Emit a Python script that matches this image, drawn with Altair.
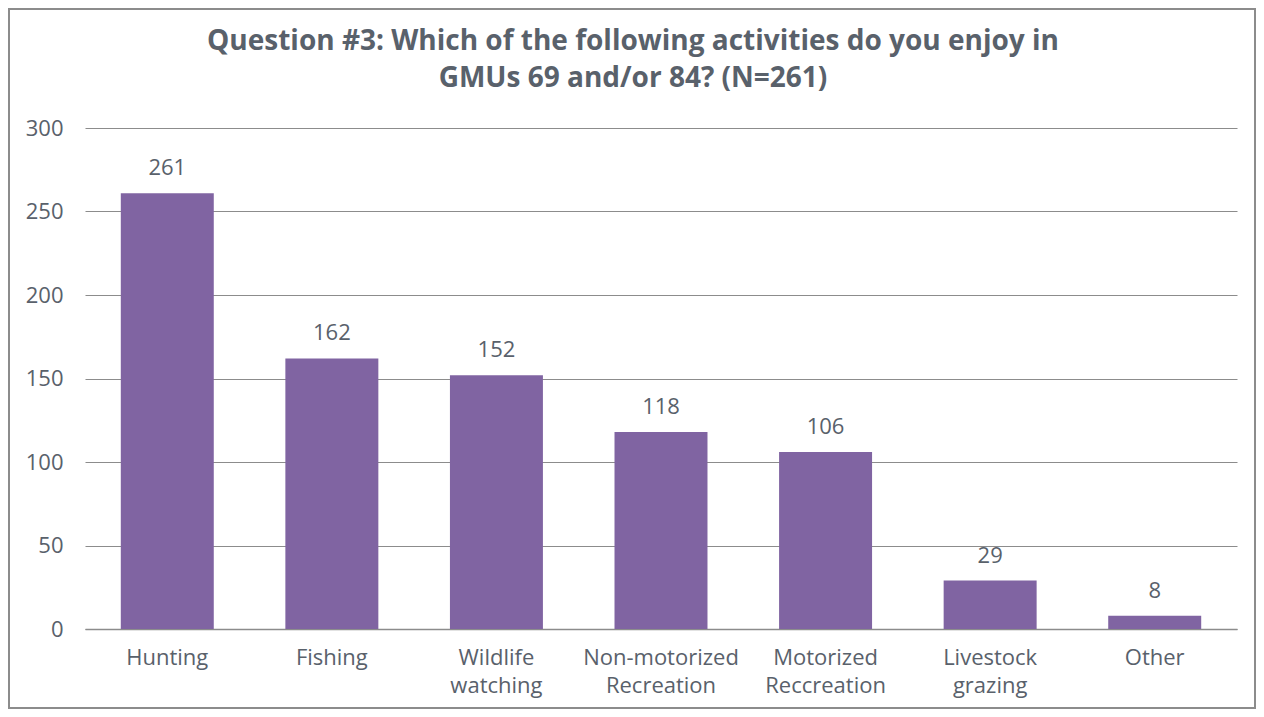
import altair as alt
import pandas as pd

categories = ["Hunting", "Fishing", "Wildlife|watching", "Non-motorized|Recreation",
              "Motorized|Reccreation", "Livestock|grazing", "Other"]
counts = [261, 162, 152, 118, 106, 29, 8]
y_ticks = [0, 50, 100, 150, 200, 250, 300]
title_lines = ["Question #3: Which of the following activities do you enjoy in",
               "GMUs 69 and/or 84? (N=261)"]

df = pd.DataFrame({"cat": categories, "n": counts})

FONT = "Open Sans"
TXT = "#59616b"
W, H = 1152, 501

x = alt.X("cat:N", sort=categories, title=None,
          scale=alt.Scale(paddingInner=0.435, paddingOuter=0.2175),
          axis=alt.Axis(labelExpr="split(datum.label, '|')", labelAngle=0,
                        labelFontSize=22, labelColor=TXT, labelFont=FONT,
                        labelLineHeight=28, labelPadding=18, ticks=False,
                        domainColor="#8c8c8c", domainWidth=1.5, labelBaseline="top"))
y = alt.Y("n:Q", title=None, scale=alt.Scale(domain=[0, 300]),
          axis=alt.Axis(values=y_ticks, labelFontSize=22, labelColor=TXT, labelFont=FONT,
                        labelPadding=22, ticks=False, domain=False,
                        gridColor="#8c8c8c", gridWidth=1.2))

bars = alt.Chart(df).mark_bar(color="#8064A2").encode(x=x, y=y)
labels = alt.Chart(df).mark_text(baseline="bottom", dy=-13, fontSize=22, color=TXT, font=FONT).encode(
    x=alt.X("cat:N", sort=categories), y="n:Q", text="n:Q")

title_df = pd.DataFrame({"t": title_lines, "row": [0, 1]})
title = alt.Chart(title_df).transform_calculate(
    yy="-86 + datum.row * 37").mark_text(
    fontSize=28, font=FONT, fontWeight="bold", color=TXT, baseline="middle", align="center").encode(
    x=alt.value(548), y=alt.Y("yy:Q", scale=None), text="t:N")

border = alt.Chart(alt.Data(values=[{"a": 1}])).mark_rect(
    fill=None, stroke="#8c8c8c", strokeWidth=2, clip=False).encode(
    x=alt.value(-76), x2=alt.value(W + 18), y=alt.value(-119), y2=alt.value(H + 79))

chart = alt.layer(bars, labels, title, border).properties(
    width=W, height=H,
    padding={"left": 77, "top": 120, "right": 19, "bottom": 80},
    autosize=alt.AutoSizeParams(type="none"),
).configure_view(stroke=None)

chart.save("out.html", embed_options={"renderer": "svg", "actions": False})
